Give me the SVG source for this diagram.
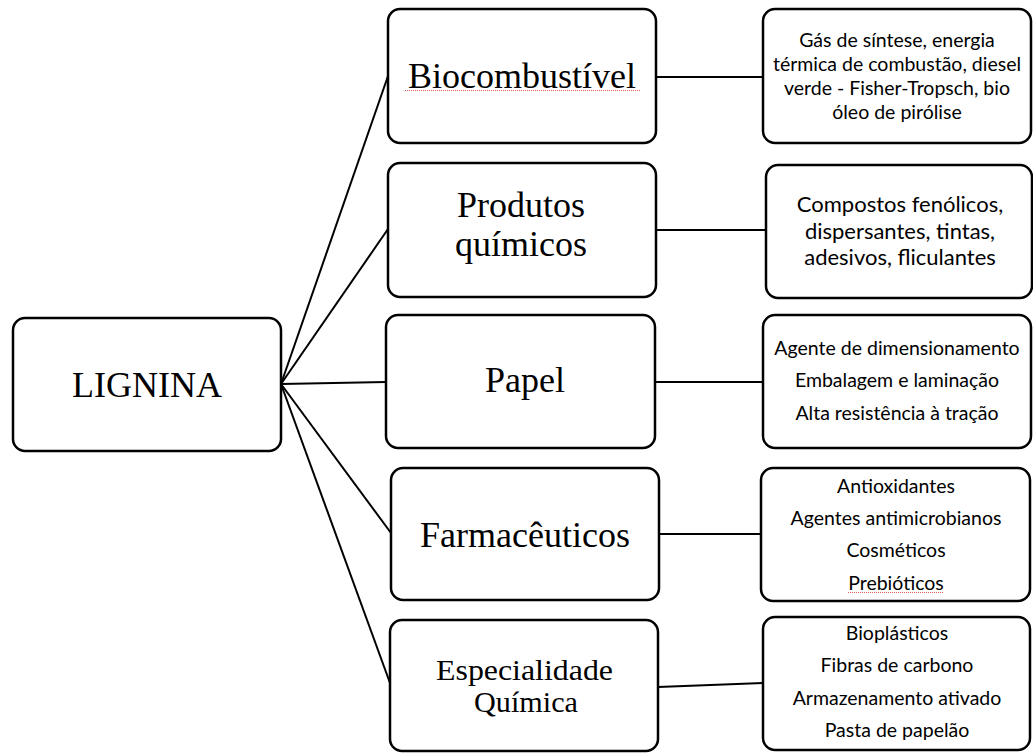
<svg xmlns="http://www.w3.org/2000/svg" width="1033" height="753" viewBox="0 0 1033 753">
<style>
.box{fill:#fff;stroke:#000;stroke-width:2.5}
.edge{stroke:#000;stroke-width:2;fill:none}
.big{font-family:"Liberation Serif","Times New Roman",serif;font-size:36px;fill:#000;text-anchor:middle}
.mid{font-family:"Liberation Serif","Times New Roman",serif;font-size:29px;fill:#000;text-anchor:middle}
.sm{font-family:Lato,"Open Sans",sans-serif;font-size:19.5px;fill:#000;text-anchor:middle}
.sm2{font-family:Lato,"Open Sans",sans-serif;font-size:22px;fill:#000;text-anchor:middle}
.sq{stroke:#e06060;stroke-width:1;stroke-dasharray:1 1;fill:none}
</style>
<rect width="1033" height="753" fill="#fff"/>
<g id="connectors">
<line class="edge" x1="281" y1="384" x2="388" y2="76"/>
<line class="edge" x1="281" y1="384" x2="388" y2="229"/>
<line class="edge" x1="281" y1="384" x2="386" y2="382"/>
<line class="edge" x1="281" y1="384" x2="391" y2="533"/>
<line class="edge" x1="281" y1="384" x2="390" y2="683"/>
<line class="edge" x1="656" y1="77" x2="763" y2="77"/>
<line class="edge" x1="656" y1="230" x2="766" y2="230"/>
<line class="edge" x1="655" y1="382" x2="763" y2="382"/>
<line class="edge" x1="659" y1="534" x2="761" y2="534"/>
<line class="edge" x1="658" y1="687" x2="763" y2="683"/>
</g>
<g id="lignina">
<rect class="box" x="13" y="318" width="268" height="133" rx="12"/>
<text class="big" x="147" y="397">LIGNINA</text>
</g>
<g id="biocombustivel">
<rect class="box" x="388" y="9" width="268" height="134" rx="12"/>
<text class="big" x="522" y="88">Biocombustível</text>
<line class="sq" x1="405" y1="90.5" x2="640" y2="90.5"/>
</g>
<g id="produtos">
<rect class="box" x="388" y="163" width="268" height="134" rx="12"/>
<text class="big" x="521" y="217">Produtos</text>
<text class="big" x="521" y="256">químicos</text>
</g>
<g id="papel">
<rect class="box" x="386" y="315" width="269" height="133" rx="12"/>
<text class="big" x="525" y="392">Papel</text>
</g>
<g id="farmaceuticos">
<rect class="box" x="391" y="468" width="268" height="132" rx="12"/>
<text class="big" x="525" y="547">Farmacêuticos</text>
</g>
<g id="especialidade">
<rect class="box" x="390" y="620" width="268" height="131" rx="12"/>
<text class="mid" x="524.5" y="680" textLength="177" lengthAdjust="spacingAndGlyphs">Especialidade</text>
<text class="mid" x="526" y="712" textLength="104" lengthAdjust="spacingAndGlyphs">Química</text>
</g>
<g id="r-bio">
<rect class="box" x="763" y="9" width="268" height="134" rx="12"/>
<text class="sm" x="897" y="47">Gás de síntese, energia</text>
<text class="sm" x="897" y="71">térmica de combustão, diesel</text>
<text class="sm" x="897" y="94.5">verde - Fisher-Tropsch, bio</text>
<text class="sm" x="897" y="118.5">óleo de pirólise</text>
</g>
<g id="r-prod">
<rect class="box" x="766" y="165" width="266" height="133" rx="12"/>
<text class="sm2" x="900" y="212">Compostos fenólicos,</text>
<text class="sm2" x="900" y="238.5">dispersantes, tintas,</text>
<text class="sm2" x="900" y="265">adesivos, fliculantes</text>
</g>
<g id="r-papel">
<rect class="box" x="763" y="315" width="268" height="133" rx="12"/>
<text class="sm" x="897" y="354.5">Agente de dimensionamento</text>
<text class="sm" x="897" y="387">Embalagem e laminação</text>
<text class="sm" x="897" y="420">Alta resistência à tração</text>
</g>
<g id="r-farm">
<rect class="box" x="761" y="468" width="269" height="133" rx="12"/>
<text class="sm" x="896" y="493">Antioxidantes</text>
<text class="sm" x="896" y="525">Agentes antimicrobianos</text>
<text class="sm" x="896" y="557">Cosméticos</text>
<text class="sm" x="896" y="589.5">Prebióticos</text>
<line class="sq" x1="848" y1="592.5" x2="944" y2="592.5"/>
</g>
<g id="r-esp">
<rect class="box" x="763" y="617" width="267" height="133" rx="12"/>
<text class="sm" x="897" y="639.5">Bioplásticos</text>
<text class="sm" x="897" y="672">Fibras de carbono</text>
<text class="sm" x="897" y="704.5">Armazenamento ativado</text>
<text class="sm" x="897" y="737">Pasta de papelão</text>
</g>
</svg>
